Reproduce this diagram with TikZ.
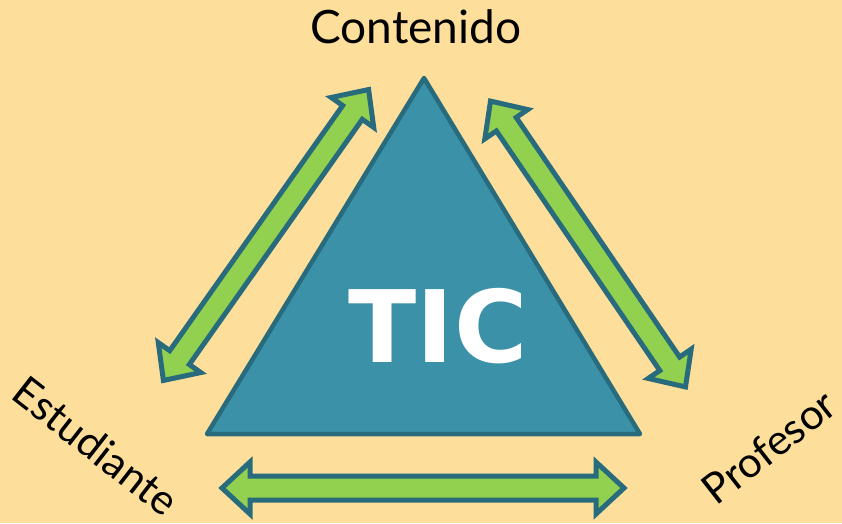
\documentclass[tikz,border=0pt]{standalone}
\usepackage{fontspec}
\setmainfont{Lato}
\newfontfamily\ticfont{DejaVu Sans}
\usepackage{tikz}
\usetikzlibrary{calc}
\definecolor{fondo}{HTML}{FDDF9B}
\definecolor{verde}{HTML}{92D050}
\definecolor{azul}{HTML}{3A91A8}
\definecolor{borde}{HTML}{286B7D}
% double arrow: center, angle, half length
\def\biarrow[#1](#2)(#3:#4){\draw[#1, shift={(#2)}, rotate=#3] (-#4,0) -- ({-#4+28},26) -- ({-#4+28},12) -- ({#4-28},12) -- ({#4-28},26) -- (#4,0) -- ({#4-28},-26) -- ({#4-28},-12) -- ({-#4+28},-12) -- ({-#4+28},-26) -- cycle;}

\begin{document}
\begin{tikzpicture}[x=1pt, y=-1pt]
			%%%%% FONDO %%%%%
			\fill[fondo] (0,0) rectangle (842,523);
			\useasboundingbox (0,0) rectangle (842,523);
			
			%%%%% TRIANGULO %%%%%
			\coordinate (cima) at (424, 78);
			\coordinate (izq) at (207, 434);
			\coordinate (der) at (640, 434);
			\draw[fill=azul, draw=borde, line width=4.5pt, line join=round] (cima) -- (der) -- (izq) -- cycle;
			\node[text=white, font=\ticfont\fontsize{100}{100}\selectfont\bfseries] (tic) at (438, 326) {TIC};
			
			%%%%% FLECHAS %%%%%
			\biarrow[fill=verde, draw=borde, line width=5pt, line join=miter](266, 235)(54.8:178)
			\biarrow[fill=verde, draw=borde, line width=5pt, line join=miter](588, 244)(-55.7:173)
			\biarrow[fill=verde, draw=borde, line width=5pt, line join=miter](423, 488)(0:201)
			
			%%%%% ETIQUETAS %%%%%
			\node[font=\fontsize{46}{46}\selectfont] (contenido) at (416, 27) {Contenido};
			\node[inner sep=0pt, font=\fontsize{42}{42}\selectfont, rotate=-38] (estudiante) at (96, 446) {Estudiante};
			\node[inner sep=0pt, font=\fontsize{42}{42}\selectfont, rotate=38] (profesor) at (769, 447) {Profesor};
			
		\end{tikzpicture}
\end{document}
